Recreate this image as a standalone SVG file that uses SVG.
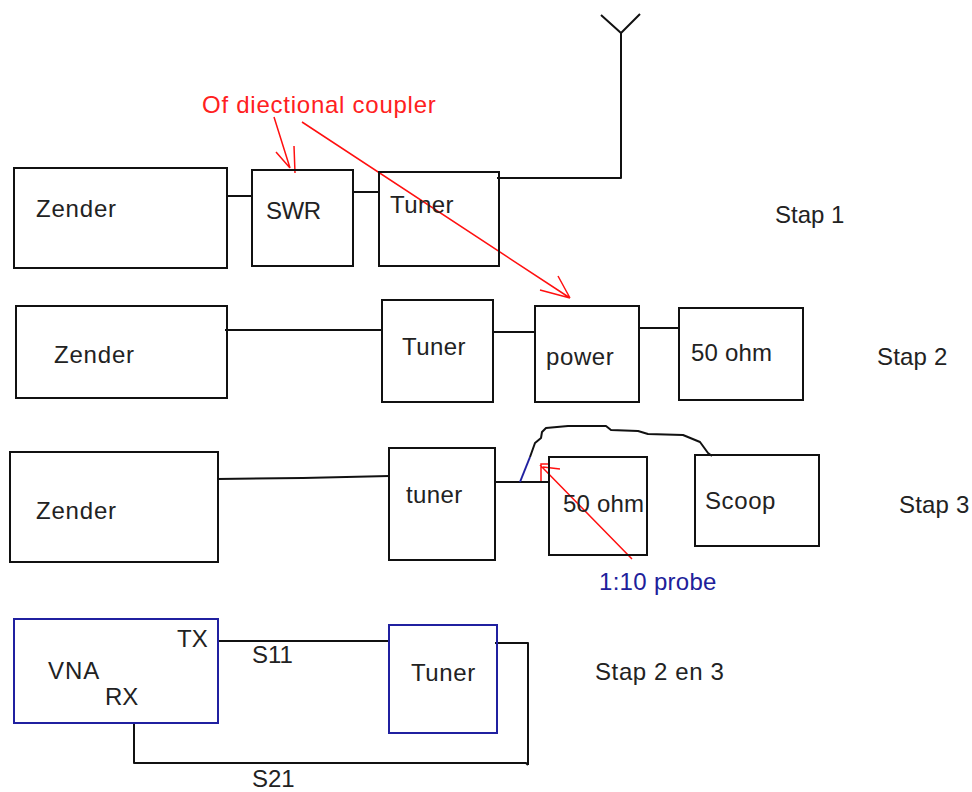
<svg xmlns="http://www.w3.org/2000/svg" width="972" height="792" viewBox="0 0 972 792">
<style>
.b{fill:none;stroke:#111;stroke-width:2}
.v{fill:none;stroke:#2020a0;stroke-width:2}
.c{fill:none;stroke:#111;stroke-width:2;stroke-linejoin:round}
.r{fill:none;stroke:#ff1010;stroke-width:1.5}
text{font-family:"Liberation Sans",Arial,sans-serif;font-size:24px;fill:#222}
.t{fill:#ff2020;letter-spacing:.75px}
.p{fill:#20209a;letter-spacing:.3px}
.z{letter-spacing:.8px}
</style>
<rect width="972" height="792" fill="#fff"/>
<g id="connectors">
<path class="c" d="M227 196H253"/>
<path class="c" d="M353 192H380"/>
<path class="c" d="M497 178H621V33M621 33L601 15M621 33L640 14"/>
<path class="c" d="M225 330H383"/>
<path class="c" d="M493 332H535"/>
<path class="c" d="M639 328H680"/>
<path class="c" d="M217 479L303 478L389 476"/>
<path class="c" d="M495 482H550"/>
<path class="c" d="M530 457L535 443L541 438L542 432L546 428L568 426L606 426L611 430L638 431L648 434L683 435L700 442L708 453L712 456"/>
<path class="v" d="M520 482L530 457"/>
<path class="c" d="M217 641H388"/>
<path class="c" d="M495 643H528V765"/>
<path class="c" d="M134 722V763H526L528 765"/>
<path class="r" d="M274 117L290 168M276 152L290 168M294 146L295 173"/>
<path class="r" d="M302 122L570 298M558 276L570 298M540 290L570 298"/>
<path class="r" d="M632 559L540 465M541 481V464H548M543 467L560 469"/>
</g>
<g id="zender1"><rect class="b" x="14" y="168" width="213" height="100"/><text class="z" x="36" y="217">Zender</text></g>
<g id="swr"><rect class="b" x="252" y="170" width="101" height="96"/><text x="266" y="219" letter-spacing="-.5">SWR</text></g>
<g id="tuner1"><rect class="b" x="379" y="172" width="120" height="94"/><text x="390" y="213" letter-spacing=".4">Tuner</text></g>
<g id="stap1"><text x="775" y="223">Stap 1</text></g>
<g id="zender2"><rect class="b" x="16" y="306" width="211" height="92"/><text class="z" x="54" y="363">Zender</text></g>
<g id="tuner2"><rect class="b" x="382" y="300" width="111" height="102"/><text x="402" y="355" letter-spacing=".4">Tuner</text></g>
<g id="power"><rect class="b" x="535" y="306" width="104" height="96"/><text x="546" y="365" letter-spacing=".6">power</text></g>
<g id="ohm2"><rect class="b" x="679" y="308" width="124" height="92"/><text x="691" y="361" letter-spacing=".2">50 ohm</text></g>
<g id="stap2"><text x="877" y="365" letter-spacing=".2">Stap 2</text></g>
<g id="zender3"><rect class="b" x="10" y="452" width="208" height="110"/><text class="z" x="36" y="519">Zender</text></g>
<g id="tuner3"><rect class="b" x="389" y="448" width="106" height="112"/><text x="406" y="503" letter-spacing=".4">tuner</text></g>
<g id="ohm3"><rect class="b" x="549" y="457" width="98" height="98"/><text x="563" y="512" letter-spacing=".2">50 ohm</text></g>
<g id="scoop"><rect class="b" x="695" y="455" width="124" height="91"/><text x="705" y="509" letter-spacing=".6">Scoop</text></g>
<g id="stap3"><text x="899" y="513" letter-spacing=".2">Stap 3</text></g>
<g id="vna"><rect class="v" x="14" y="619" width="204" height="104"/><text x="48" y="679" letter-spacing="1">VNA</text><text x="177" y="647">TX</text><text x="105" y="705">RX</text></g>
<g id="tuner4"><rect class="v" x="389" y="625" width="108" height="108"/><text x="411" y="681" letter-spacing=".6">Tuner</text></g>
<g id="stap23"><text x="595" y="680" letter-spacing=".6">Stap 2 en 3</text></g>
<g id="labels">
<text class="t" x="202" y="113">Of diectional coupler</text>
<text class="p" x="599" y="590">1:10 probe</text>
<text x="252" y="663">S11</text>
<text x="252" y="786.5">S21</text>
</g>
</svg>
